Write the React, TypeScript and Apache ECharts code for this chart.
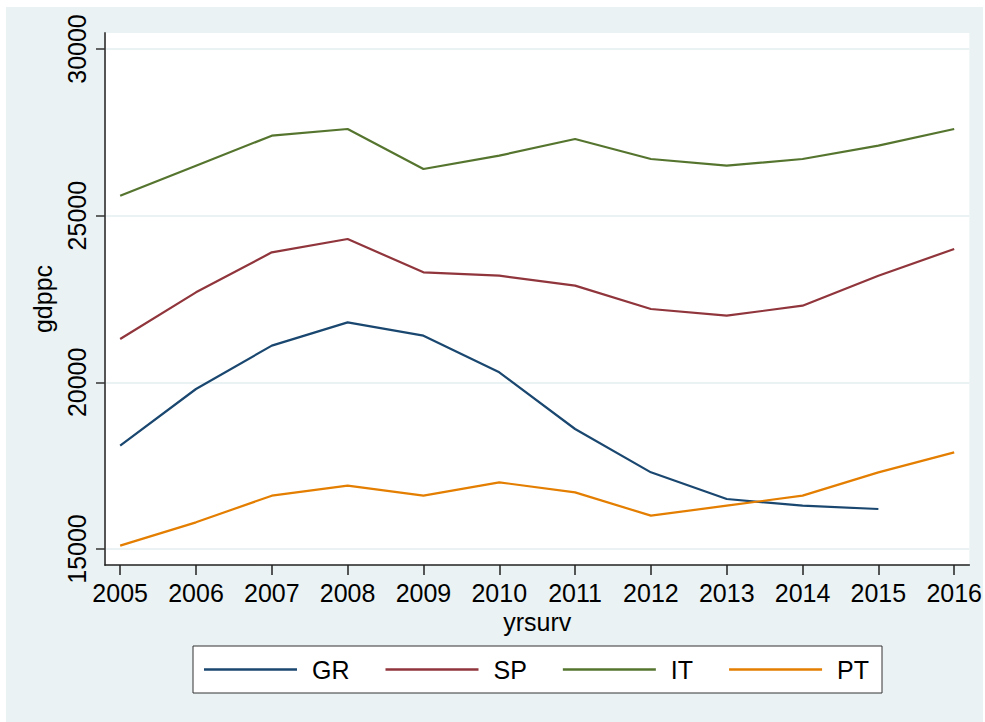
import React, { useEffect, useRef } from "react";
import * as echarts from "echarts";

const years = [2005, 2006, 2007, 2008, 2009, 2010, 2011, 2012, 2013, 2014, 2015, 2016];
const grValues: (number | null)[] = [18100, 19800, 21100, 21800, 21400, 20300, 18600, 17300, 16500, 16300, 16200, null];
const spValues = [21300, 22700, 23900, 24300, 23300, 23200, 22900, 22200, 22000, 22300, 23200, 24000];
const itValues = [25600, 26500, 27400, 27600, 26400, 26800, 27300, 26700, 26500, 26700, 27100, 27600];
const ptValues = [15100, 15800, 16600, 16900, 16600, 17000, 16700, 16000, 16300, 16600, 17300, 17900];
const yTicks = [15000, 20000, 25000, 30000];
const seriesNames = ["GR", "SP", "IT", "PT"];
const seriesColors = ["#1a476f", "#90353b", "#55752f", "#e37e00"];

const FONT = "'Liberation Sans', Arial, sans-serif";
const FS = 25;

export default function App() {
  const ref = useRef<HTMLDivElement>(null);
  useEffect(() => {
    if (!ref.current) return;
    const chart = echarts.init(ref.current, undefined, { renderer: "svg" });
    const all = [grValues, spValues, itValues, ptValues];
    const series = all.map((vals, i) => ({
      name: seriesNames[i],
      type: "line",
      data: years
        .map((y, j) => (vals[j] == null ? null : [y, vals[j]]))
        .filter((d) => d !== null),
      showSymbol: false,
      symbol: "none",
      lineStyle: { color: seriesColors[i], width: 2.2 },
      itemStyle: { color: seriesColors[i] },
      z: 5,
    }));
    chart.setOption({
      animation: false,
      backgroundColor: "#ffffff",
      textStyle: { fontFamily: FONT },
      graphic: [
        {
          type: "rect",
          z: -10,
          silent: true,
          shape: { x: 6, y: 7, width: 977, height: 715 },
          style: { fill: "#eaf2f3" },
        },
      ],
      grid: {
        left: 105,
        top: 33,
        right: 15,
        bottom: 157,
        show: true,
        backgroundColor: "#ffffff",
        borderWidth: 0,
        containLabel: false,
      },
      legend: {
        data: seriesNames,
        left: 193,
        top: 646,
        orient: "horizontal",
        icon: "rect",
        itemWidth: 93,
        itemHeight: 2.5,
        itemGap: 36,
        padding: [11, 13, 11, 11],
        backgroundColor: "#ffffff",
        borderColor: "#333333",
        borderWidth: 1,
        borderRadius: 0,
        textStyle: {
          fontFamily: FONT,
          fontSize: FS,
          color: "#000000",
          padding: [0, 0, 0, 10],
        },
      },
      xAxis: {
        type: "value",
        min: 2004.8,
        max: 2016.2,
        name: "yrsurv",
        nameLocation: "middle",
        nameGap: 44,
        nameTextStyle: { fontFamily: FONT, fontSize: FS, color: "#000000" },
        axisLine: { show: true, lineStyle: { color: "#222222", width: 1.5 } },
        axisTick: {
          show: true,
          length: 10,
          lineStyle: { color: "#222222", width: 1.5 },
          customValues: years,
        },
        axisLabel: {
          customValues: years,
          fontFamily: FONT,
          fontSize: FS,
          color: "#000000",
          margin: 15,
          formatter: (v: number) => String(v),
        },
        splitLine: { show: false },
      },
      yAxis: {
        type: "value",
        min: 14520,
        max: 30480,
        name: "gdppc",
        nameLocation: "middle",
        nameRotate: 90,
        nameGap: 50,
        nameTextStyle: { fontFamily: FONT, fontSize: FS, color: "#000000" },
        axisLine: { show: true, lineStyle: { color: "#555555", width: 2 } },
        axisTick: {
          show: true,
          length: 9,
          lineStyle: { color: "#333333", width: 1.5 },
          customValues: yTicks,
        },
        axisLabel: {
          customValues: yTicks,
          rotate: 90,
          fontFamily: FONT,
          fontSize: FS,
          color: "#000000",
          margin: 16,
          formatter: (v: number) => String(v),
        },
        splitLine: { show: true, lineStyle: { color: "#eaf2f3", width: 2 } },
      },
      series,
    });
    return () => chart.dispose();
  }, []);
  return (
    <div
      ref={ref}
      style={{ position: "fixed", left: 0, top: 0, width: 985, height: 722 }}
    />
  );
}
